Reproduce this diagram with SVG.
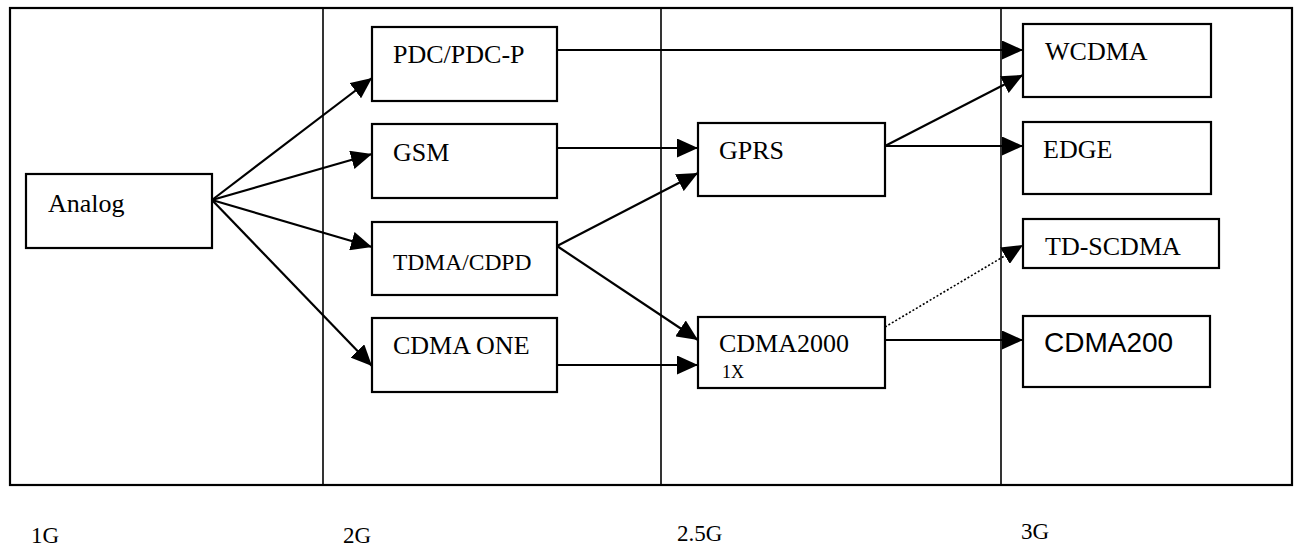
<svg xmlns="http://www.w3.org/2000/svg" width="1297" height="546" viewBox="0 0 1297 546">
<style>
.box{fill:#fff;stroke:#000;stroke-width:2.2}
.t{font-family:"Liberation Serif","Times New Roman",serif;font-size:26px;fill:#000}
.s{font-family:"Liberation Sans",Arial,sans-serif;font-size:28px;fill:#000}
.c{stroke:#000;stroke-width:2.2;fill:none;marker-end:url(#ah)}
.d{stroke:#000;stroke-width:1.6;fill:none;stroke-dasharray:2 2;marker-end:url(#ah)}
.frame{fill:none;stroke:#000;stroke-width:2.2}
.div{stroke:#000;stroke-width:1.6}
</style>
<defs>
<marker id="ah" markerUnits="userSpaceOnUse" markerWidth="21" markerHeight="19" refX="21" refY="9.5" orient="auto">
<path d="M0,0 L21,9.5 L0,19 z" fill="#000"/>
</marker>
</defs>
<rect width="1297" height="546" fill="#fff"/>
<g id="frame">
<rect class="frame" x="10" y="8" width="1282" height="477"/>
<line class="div" x1="323" y1="8" x2="323" y2="485"/>
<line class="div" x1="661" y1="8" x2="661" y2="485"/>
<line class="div" x1="1001" y1="8" x2="1001" y2="485"/>
</g>
<g id="connectors">
<line class="c" x1="212" y1="200" x2="372" y2="78"/>
<line class="c" x1="212" y1="200" x2="372" y2="154"/>
<line class="c" x1="212" y1="200" x2="372" y2="247"/>
<line class="c" x1="212" y1="200" x2="372" y2="366"/>
<line class="c" x1="557" y1="50" x2="1023" y2="50"/>
<line class="c" x1="557" y1="148" x2="698" y2="148"/>
<line class="c" x1="557" y1="246" x2="698" y2="173"/>
<line class="c" x1="557" y1="246" x2="698" y2="340"/>
<line class="c" x1="557" y1="365" x2="698" y2="365"/>
<line class="c" x1="885" y1="146" x2="1023" y2="75"/>
<line class="c" x1="885" y1="146" x2="1023" y2="146"/>
<line class="d" x1="885" y1="327" x2="1023" y2="245"/>
<line class="c" x1="885" y1="340" x2="1023" y2="340"/>
</g>
<g id="analog"><rect class="box" x="26" y="174" width="186" height="74"/><text class="t" x="48" y="212">Analog</text></g>
<g id="pdc"><rect class="box" x="372" y="27" width="185" height="74"/><text class="t" x="393" y="63">PDC/PDC-P</text></g>
<g id="gsm"><rect class="box" x="372" y="124" width="185" height="74"/><text class="t" x="393" y="161">GSM</text></g>
<g id="tdma"><rect class="box" x="372" y="222" width="185" height="73"/><text class="t" x="393" y="270" style="font-size:23.5px">TDMA/CDPD</text></g>
<g id="cdmaone"><rect class="box" x="372" y="318" width="185" height="74"/><text class="t" x="393" y="354">CDMA ONE</text></g>
<g id="gprs"><rect class="box" x="698" y="123" width="187" height="73"/><text class="t" x="719" y="159">GPRS</text></g>
<g id="cdma2000"><rect class="box" x="698" y="317" width="187" height="71"/><text class="t" x="719" y="352">CDMA2000</text><text class="t" x="722" y="378" style="font-size:18px">1X</text></g>
<g id="wcdma"><rect class="box" x="1023" y="24" width="188" height="73"/><text class="t" x="1045" y="60">WCDMA</text></g>
<g id="edge"><rect class="box" x="1023" y="122" width="188" height="72"/><text class="t" x="1043" y="158">EDGE</text></g>
<g id="tdscdma"><rect class="box" x="1023" y="219" width="196" height="49"/><text class="t" x="1045" y="255">TD-SCDMA</text></g>
<g id="cdma200"><rect class="box" x="1023" y="316" width="187" height="71"/><text class="s" x="1044" y="352">CDMA200</text></g>
<g id="labels">
<text class="t" x="31" y="543" style="font-size:23px">1G</text>
<text class="t" x="343" y="543" style="font-size:23px">2G</text>
<text class="t" x="677" y="541" style="font-size:23px">2.5G</text>
<text class="t" x="1021" y="539" style="font-size:23px">3G</text>
</g>
</svg>
